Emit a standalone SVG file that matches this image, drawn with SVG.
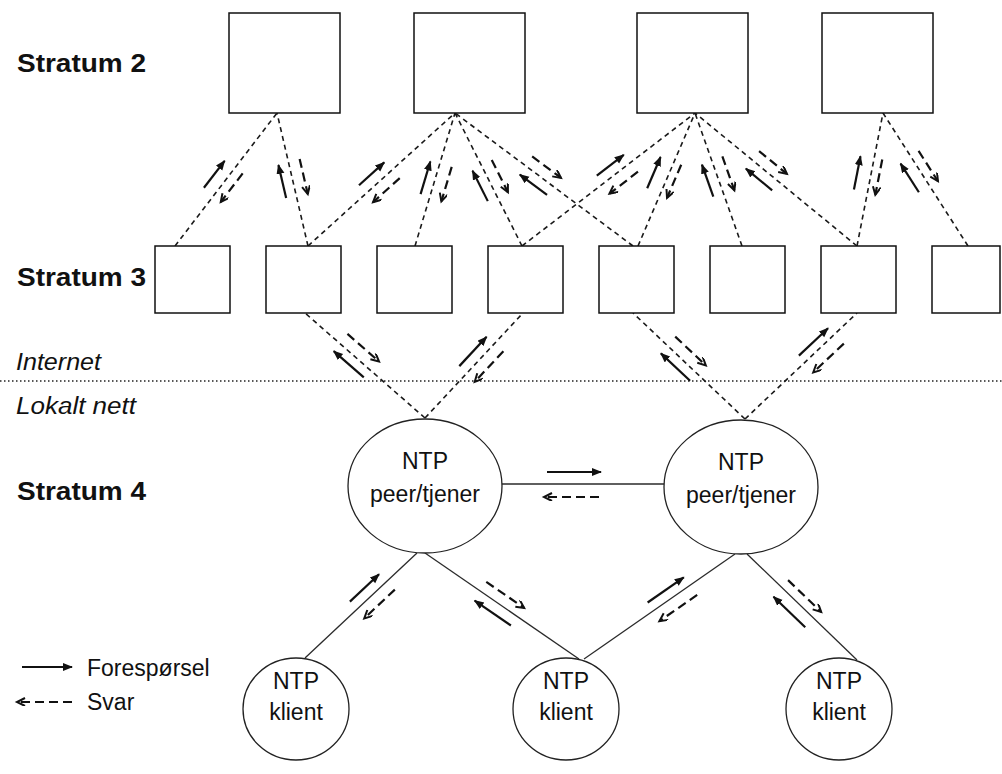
<svg xmlns="http://www.w3.org/2000/svg" xmlns:xlink="http://www.w3.org/1999/xlink" width="1002" height="774" viewBox="0 0 1002 774">
  <style>
    .box { fill: #fff; stroke: #111; stroke-width: 1.5; }
    .node { fill: #fff; stroke: #222; stroke-width: 1.3; }
    .link { stroke: #1a1a1a; stroke-width: 1.6; stroke-dasharray: 5 4; fill: none; }
    .lan { stroke: #2a2a2a; stroke-width: 1.3; fill: none; }
    .req { stroke: #111; stroke-width: 2.2; fill: none; marker-end: url(#headSolid); }
    .rsp { stroke: #111; stroke-width: 2.2; fill: none; stroke-dasharray: 9 5; marker-end: url(#headOpen); }
    .lbl { font-family: "Liberation Sans", Arial, sans-serif; font-size: 23px; fill: #111; }
    .stratum { font-family: "Liberation Sans", Arial, sans-serif; font-size: 25px; font-weight: bold; fill: #111; }
    .zone { font-family: "Liberation Sans", Arial, sans-serif; font-size: 23px; font-style: italic; fill: #111; }
    .ntp { font-family: "Liberation Sans", Arial, sans-serif; font-size: 23px; fill: #111; text-anchor: middle; }
  </style>
  <defs>
    <marker id="headSolid" markerUnits="userSpaceOnUse" markerWidth="12" markerHeight="10" refX="9" refY="4" orient="auto">
      <path d="M0,0 L10,4 L0,8 z" fill="#111"/>
    </marker>
    <marker id="headOpen" markerUnits="userSpaceOnUse" markerWidth="12" markerHeight="10" refX="9" refY="4" orient="auto">
      <path d="M1,0 L9,4 L1,8" fill="none" stroke="#111" stroke-width="2"/>
    </marker>
    <!-- request/response pairs: +x is the request direction -->
    <g id="pairS">
      <line class="req" x1="-17" y1="-11" x2="17" y2="-11"/>
      <line class="rsp" x1="18" y1="11" x2="-18" y2="11"/>
    </g>
    <g id="pairM">
      <line class="req" x1="-20" y1="-11" x2="20" y2="-11"/>
      <line class="rsp" x1="21" y1="11" x2="-21" y2="11"/>
    </g>
    <g id="pairL">
      <line class="req" x1="-22" y1="-11" x2="22" y2="-11"/>
      <line class="rsp" x1="23" y1="11" x2="-23" y2="11"/>
    </g>
    <g id="pairH">
      <line class="req" x1="-26" y1="-12" x2="28" y2="-12"/>
      <line class="rsp" x1="26" y1="13" x2="-29" y2="13"/>
    </g>
  </defs>

  <rect width="1002" height="774" fill="#fff"/>

  <!-- level labels -->
  <text class="stratum" x="17" y="72" textLength="129" lengthAdjust="spacingAndGlyphs">Stratum 2</text>
  <text class="stratum" x="17" y="286" textLength="129" lengthAdjust="spacingAndGlyphs">Stratum 3</text>
  <text class="stratum" x="17" y="500" textLength="129" lengthAdjust="spacingAndGlyphs">Stratum 4</text>
  <text class="zone" x="16" y="370" textLength="85" lengthAdjust="spacingAndGlyphs">Internet</text>
  <text class="zone" x="16" y="414" textLength="120" lengthAdjust="spacingAndGlyphs">Lokalt nett</text>

  <!-- boundary between internet and local network -->
  <line x1="0" y1="381" x2="1002" y2="381" stroke="#222" stroke-width="1.4" stroke-dasharray="1.5 2.5"/>

  <!-- connectors -->
  <g id="connectors">
    <!-- stratum 3 to stratum 2 -->
    <line class="link" x1="175" y1="246" x2="277" y2="113"/>
    <line class="link" x1="308" y1="246" x2="277" y2="113"/>
    <line class="link" x1="308" y1="246" x2="455" y2="113"/>
    <line class="link" x1="415" y1="246" x2="455" y2="113"/>
    <line class="link" x1="522" y1="246" x2="455" y2="113"/>
    <line class="link" x1="633" y1="246" x2="455" y2="113"/>
    <line class="link" x1="522" y1="246" x2="695" y2="113"/>
    <line class="link" x1="638" y1="246" x2="695" y2="113"/>
    <line class="link" x1="742" y1="246" x2="695" y2="113"/>
    <line class="link" x1="857" y1="246" x2="695" y2="113"/>
    <line class="link" x1="857" y1="246" x2="883" y2="113"/>
    <line class="link" x1="968" y1="246" x2="883" y2="113"/>
    <!-- stratum 4 peers to stratum 3 -->
    <line class="link" x1="425" y1="418" x2="305" y2="313"/>
    <line class="link" x1="425" y1="418" x2="523" y2="313"/>
    <line class="link" x1="745" y1="419" x2="633" y2="313"/>
    <line class="link" x1="745" y1="419" x2="857" y2="313"/>
    <!-- local network -->
    <line class="lan" x1="502" y1="484" x2="664" y2="484"/>
    <line class="lan" x1="305" y1="658" x2="417" y2="553"/>
    <line class="lan" x1="579" y1="659" x2="425" y2="553"/>
    <line class="lan" x1="584" y1="659" x2="735" y2="554"/>
    <line class="lan" x1="857" y1="660" x2="747" y2="554"/>

    <!-- request / response arrows -->
    <use xlink:href="#pairS" transform="translate(223,181) rotate(-52.5)"/>
    <use xlink:href="#pairS" transform="translate(293,179) rotate(-103.1)"/>
    <use xlink:href="#pairS" transform="translate(379,182) rotate(-42.1)"/>
    <use xlink:href="#pairS" transform="translate(436,181) rotate(-73.3)"/>
    <use xlink:href="#pairS" transform="translate(490,181) rotate(-116.7)"/>
    <use xlink:href="#pairS" transform="translate(540,176) rotate(-143.2)"/>
    <use xlink:href="#pairS" transform="translate(617,174) rotate(-37.6)"/>
    <use xlink:href="#pairS" transform="translate(664,177) rotate(-66.8)"/>
    <use xlink:href="#pairS" transform="translate(718,177) rotate(-109.5)"/>
    <use xlink:href="#pairS" transform="translate(766,171) rotate(-140.6)"/>
    <use xlink:href="#pairS" transform="translate(868,175) rotate(-78.9)"/>
    <use xlink:href="#pairS" transform="translate(919,172) rotate(-122.6)"/>

    <use xlink:href="#pairM" transform="translate(356,356) rotate(-138.8)"/>
    <use xlink:href="#pairM" transform="translate(481,359) rotate(-47)"/>
    <use xlink:href="#pairM" transform="translate(683,359) rotate(-136.8)"/>
    <use xlink:href="#pairM" transform="translate(821,350) rotate(-43.2)"/>

    <use xlink:href="#pairH" transform="translate(573,484)"/>

    <use xlink:href="#pairM" transform="translate(372,596) rotate(-43.2)"/>
    <use xlink:href="#pairL" transform="translate(499,604) rotate(-145.5)"/>
    <use xlink:href="#pairL" transform="translate(672,599) rotate(-34.8)"/>
    <use xlink:href="#pairL" transform="translate(797,604) rotate(-136.1)"/>
  </g>

  <!-- stratum 2 servers -->
  <g id="s2-a"><rect class="box" x="229" y="13" width="111" height="100"/></g>
  <g id="s2-b"><rect class="box" x="414" y="13" width="111" height="100"/></g>
  <g id="s2-c"><rect class="box" x="637" y="13" width="111" height="100"/></g>
  <g id="s2-d"><rect class="box" x="822" y="13" width="111" height="100"/></g>

  <!-- stratum 3 servers -->
  <g id="s3-a"><rect class="box" x="155" y="246" width="75" height="67"/></g>
  <g id="s3-b"><rect class="box" x="266" y="246" width="75" height="67"/></g>
  <g id="s3-c"><rect class="box" x="377" y="246" width="75" height="67"/></g>
  <g id="s3-d"><rect class="box" x="488" y="246" width="75" height="67"/></g>
  <g id="s3-e"><rect class="box" x="599" y="246" width="75" height="67"/></g>
  <g id="s3-f"><rect class="box" x="710" y="246" width="75" height="67"/></g>
  <g id="s3-g"><rect class="box" x="821" y="246" width="75" height="67"/></g>
  <g id="s3-h"><rect class="box" x="932" y="246" width="68" height="67"/></g>

  <!-- stratum 4 peers -->
  <g id="peer-1">
    <ellipse class="node" cx="425" cy="486" rx="77" ry="67"/>
    <text class="ntp" x="425" y="469">NTP</text>
    <text class="ntp" x="425" y="502">peer/tjener</text>
  </g>
  <g id="peer-2">
    <ellipse class="node" cx="741" cy="487" rx="77" ry="67"/>
    <text class="ntp" x="741" y="470">NTP</text>
    <text class="ntp" x="741" y="503">peer/tjener</text>
  </g>

  <!-- clients -->
  <g id="client-1">
    <ellipse class="node" cx="296" cy="709" rx="53" ry="51"/>
    <text class="ntp" x="296" y="689">NTP</text>
    <text class="ntp" x="296" y="720">klient</text>
  </g>
  <g id="client-2">
    <ellipse class="node" cx="566" cy="709" rx="53" ry="51"/>
    <text class="ntp" x="566" y="689">NTP</text>
    <text class="ntp" x="566" y="720">klient</text>
  </g>
  <g id="client-3">
    <ellipse class="node" cx="839" cy="709" rx="53" ry="51"/>
    <text class="ntp" x="839" y="689">NTP</text>
    <text class="ntp" x="839" y="720">klient</text>
  </g>

  <!-- legend -->
  <g id="legend">
    <line class="req" x1="22" y1="667" x2="72" y2="667"/>
    <text class="lbl" x="87" y="676">Forespørsel</text>
    <line class="rsp" x1="72" y1="702" x2="17" y2="702"/>
    <text class="lbl" x="87" y="710">Svar</text>
  </g>
</svg>
